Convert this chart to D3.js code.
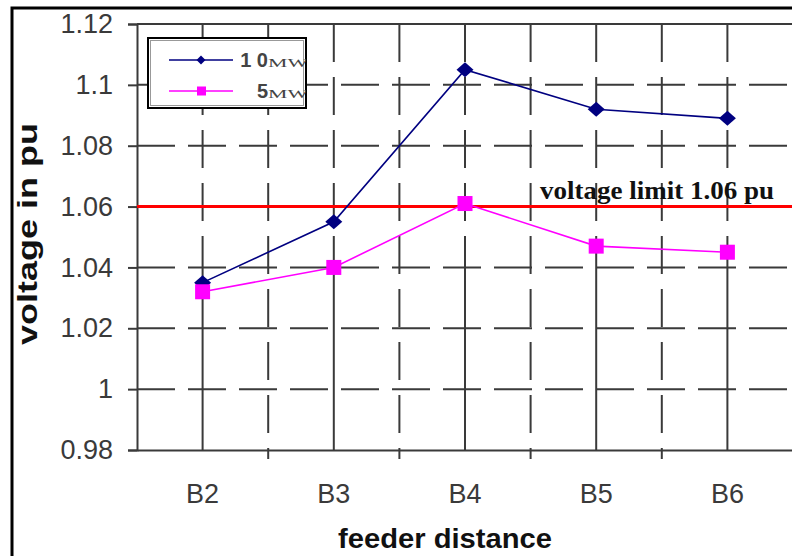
<!DOCTYPE html>
<html>
<head>
<meta charset="utf-8">
<script src="https://cdn.jsdelivr.net/npm/d3@7/dist/d3.min.js"></script>
<style>
  html, body { margin: 0; padding: 0; background: #fff; }
  svg { display: block; }
</style>
</head>
<body>
<script>
// ---------- data ----------
const categories = ["B2", "B3", "B4", "B5", "B6"];
const series10MW = [1.035, 1.055, 1.105, 1.092, 1.089];
const series5MW  = [1.032, 1.040, 1.061, 1.047, 1.045];
const yTickValues = [0.98, 1.00, 1.02, 1.04, 1.06, 1.08, 1.10, 1.12];
const yTickLabels = ["0.98", "1", "1.02", "1.04", "1.06", "1.08", "1.1", "1.12"];
const voltageLimit = 1.06;
const limitLabel = "voltage limit 1.06 pu";
const seriesNames = ["1 0", "5"];
const unitLabel = "MW";
const xTitle = "feeder distance";
const yTitle = "voltage in pu";

// ---------- layout ----------
const W = 792, H = 556;
const plotL = 137, plotR = 793, plotT = 24, plotB = 450;

const svg = d3.select("body").append("svg").attr("width", W).attr("height", H);

// outer border
svg.append("rect").attr("x", 12).attr("y", 8).attr("width", 820).attr("height", 600)
  .attr("fill", "#fff").attr("stroke", "#000").attr("stroke-width", 3);

const x = d3.scaleBand().domain(categories).range([plotL, plotR]).padding(0);
const y = d3.scaleLinear().domain([0.98, 1.12]).range([plotB, plotT]);
const cx = c => x(c) + x.bandwidth() / 2;

const grid = svg.append("g");
const gridColor = "#3a3a3a";

// horizontal gridlines
grid.selectAll("line.h").data(yTickValues.filter(v => v > 0.981 && v < 1.119))
  .enter().append("line")
  .attr("x1", plotL).attr("x2", plotR)
  .attr("y1", d => y(d)).attr("y2", d => y(d))
  .attr("stroke", gridColor).attr("stroke-width", 2)
  .attr("stroke-dasharray", "38,13");
// top line (1.12)
grid.append("line").attr("x1", plotL).attr("x2", plotR)
  .attr("y1", y(1.12)).attr("y2", y(1.12))
  .attr("stroke", gridColor).attr("stroke-width", 2);

// vertical gridlines at category boundaries
const boundaries = categories.slice(1).map(c => x(c));
grid.selectAll("line.vb").data(boundaries).enter().append("line")
  .attr("x1", d => d).attr("x2", d => d)
  .attr("y1", plotT).attr("y2", plotB)
  .attr("stroke", gridColor).attr("stroke-width", 2)
  .attr("stroke-dasharray", "38,15");
// vertical gridlines at category centers
grid.selectAll("line.vc").data(categories).enter().append("line")
  .attr("x1", d => cx(d)).attr("x2", d => cx(d))
  .attr("y1", plotT).attr("y2", plotB)
  .attr("stroke", gridColor).attr("stroke-width", 2)
  .attr("stroke-dasharray", "38,15,38,15,38,15,38,15,1000");

// x tick marks at boundaries (below axis)
grid.selectAll("line.xt").data(boundaries).enter().append("line")
  .attr("x1", d => d).attr("x2", d => d)
  .attr("y1", plotB).attr("y2", plotB + 9)
  .attr("stroke", gridColor).attr("stroke-width", 2);

// y axis
const yAxis = svg.append("g").attr("transform", `translate(${plotL},0)`)
  .call(d3.axisLeft(y).tickValues(yTickValues)
    .tickFormat((d, i) => yTickLabels[i]).tickSize(9).tickPadding(15));
yAxis.select(".domain").attr("stroke", gridColor).attr("stroke-width", 2);
yAxis.selectAll(".tick line").attr("stroke", gridColor).attr("stroke-width", 2);
yAxis.selectAll(".tick text")
  .attr("font-family", "'Liberation Sans', Arial, sans-serif")
  .attr("font-size", 27).attr("fill", "#3a3a3a");

// x axis
const xAxis = svg.append("g").attr("transform", `translate(0,${plotB})`)
  .call(d3.axisBottom(x).tickSize(0).tickPadding(34));
xAxis.select(".domain").attr("stroke", gridColor).attr("stroke-width", 2);
xAxis.selectAll(".tick text")
  .attr("font-family", "'Liberation Sans', Arial, sans-serif")
  .attr("font-size", 27).attr("fill", "#3a3a3a");

// voltage limit line
svg.append("line").attr("x1", plotL).attr("x2", plotR)
  .attr("y1", y(voltageLimit)).attr("y2", y(voltageLimit))
  .attr("stroke", "#ff0000").attr("stroke-width", 3);
svg.append("text").attr("x", 540).attr("y", y(voltageLimit) - 8)
  .attr("font-family", "'Liberation Serif', 'Times New Roman', serif")
  .attr("font-weight", "bold").attr("font-size", 25)
  .attr("textLength", 234).attr("lengthAdjust", "spacingAndGlyphs")
  .attr("fill", "#111").text(limitLabel);

// series
const line = d3.line().x((d, i) => cx(categories[i])).y(d => y(d));
svg.append("path").datum(series10MW).attr("d", line)
  .attr("fill", "none").attr("stroke", "#000080").attr("stroke-width", 1.6);
svg.append("path").datum(series5MW).attr("d", line)
  .attr("fill", "none").attr("stroke", "#ff00ff").attr("stroke-width", 1.6);

const diamond = "M0,-7.5L8.5,0L0,7.5L-8.5,0Z";
svg.selectAll("path.m10").data(series10MW).enter().append("path")
  .attr("d", diamond)
  .attr("transform", (d, i) => `translate(${cx(categories[i])},${y(d)})`)
  .attr("fill", "#000080");
svg.selectAll("rect.m5").data(series5MW).enter().append("rect")
  .attr("x", (d, i) => cx(categories[i]) - 7.5).attr("y", d => y(d) - 7.5)
  .attr("width", 15).attr("height", 15).attr("fill", "#ff00ff");

// legend
const lg = svg.append("g");
lg.append("clipPath").attr("id", "lgclip").append("rect")
  .attr("x", 148).attr("y", 38).attr("width", 158).attr("height", 70);
lg.append("rect").attr("x", 148).attr("y", 38).attr("width", 158).attr("height", 70)
  .attr("fill", "#fff").attr("stroke", "#000").attr("stroke-width", 2);
lg.append("rect").attr("x", 150.5).attr("y", 40.5).attr("width", 153).attr("height", 65)
  .attr("fill", "none").attr("stroke", "#999").attr("stroke-width", 1);
const lgc = lg.append("g").attr("clip-path", "url(#lgclip)");
const rowY = [60, 91];
const colors = ["#000080", "#ff00ff"];
rowY.forEach((ry, i) => {
  lgc.append("line").attr("x1", 169).attr("x2", 233).attr("y1", ry).attr("y2", ry)
    .attr("stroke", colors[i]).attr("stroke-width", 1.6);
  if (i === 0) {
    lgc.append("path").attr("d", "M0,-4.5L4.5,0L0,4.5L-4.5,0Z")
      .attr("transform", `translate(201,${ry})`).attr("fill", colors[i]);
  } else {
    lgc.append("rect").attr("x", 197).attr("y", ry - 4.5).attr("width", 9).attr("height", 9)
      .attr("fill", colors[i]);
  }
  lgc.append("text").attr("x", 268).attr("y", ry + 7).attr("text-anchor", "end")
    .attr("font-family", "'Liberation Sans', Arial, sans-serif")
    .attr("font-weight", "bold").attr("font-size", 20).attr("fill", "#444")
    .text(seriesNames[i]);
  lgc.append("text").attr("x", 268).attr("y", ry + 7)
    .attr("font-family", "'Liberation Serif', 'Times New Roman', serif")
    .attr("font-size", 12).attr("fill", "#444")
    .attr("textLength", 40).attr("lengthAdjust", "spacingAndGlyphs")
    .text(unitLabel);
});

// axis titles
svg.append("text").attr("x", 445).attr("y", 548).attr("text-anchor", "middle")
  .attr("font-family", "'Liberation Sans', Arial, sans-serif")
  .attr("font-weight", "bold").attr("font-size", 27).attr("fill", "#111")
  .attr("textLength", 214).attr("lengthAdjust", "spacingAndGlyphs")
  .text(xTitle);
svg.append("text").attr("transform", "translate(37,234) rotate(-90)")
  .attr("text-anchor", "middle")
  .attr("font-family", "'Liberation Sans', Arial, sans-serif")
  .attr("font-weight", "bold").attr("font-size", 28).attr("fill", "#111")
  .attr("textLength", 222).attr("lengthAdjust", "spacingAndGlyphs")
  .text(yTitle);
</script>
</body>
</html>
